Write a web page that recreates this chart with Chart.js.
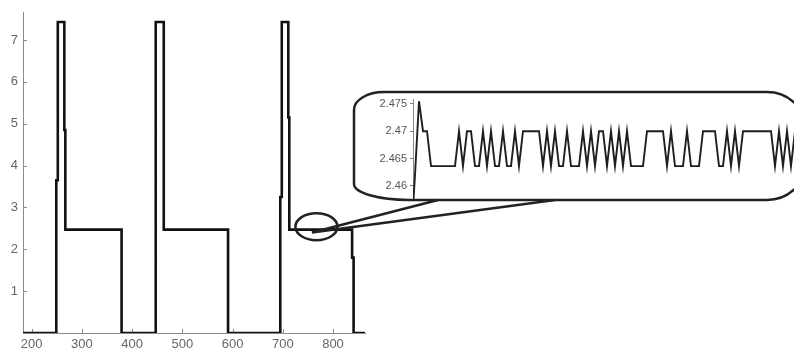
<!DOCTYPE html>
<html>
<head>
<meta charset="UTF-8">
<title>Pulse trace with zoom</title>
<script src="https://cdn.jsdelivr.net/npm/chart.js@4.4.2/dist/chart.umd.min.js"></script>
<style>
  body { margin: 0; background: #fff; }
  #wrap { position: relative; width: 794px; height: 356px; }
  #wrap canvas { position: absolute; left: 0; top: 0; }
</style>
</head>
<body>
<div id="wrap">
  <canvas id="main" width="794" height="356"></canvas>
  <canvas id="zoom" width="794" height="356"></canvas>
</div>
<script>
// main trace: time and level (vertical edges are repeated x values)
const mainX = [183, 249, 249, 252, 252, 265, 265, 267, 267, 379, 379,
               447, 447, 463, 463, 591, 591,
               695, 695, 698, 698, 711, 711, 713, 713, 838, 838, 841, 841, 864];
const mainY = [0, 0, 3.65, 3.65, 7.43, 7.43, 4.85, 4.85, 2.47, 2.47, 0,
               0, 7.43, 7.43, 2.47, 2.47, 0,
               0, 3.25, 3.25, 7.43, 7.43, 5.15, 5.15, 2.47, 2.47, 1.8, 1.8, 0, 0];
const mainXTicks = [200, 300, 400, 500, 600, 700, 800];
const mainYTicks = [1, 2, 3, 4, 5, 6, 7];

// zoomed samples of the third plateau (one value per sample)
const zoomY = [
  2.450, 2.462, 2.4755, 2.470, 2.470, 2.4636, 2.4636, 2.4636, 2.4636, 2.4636, 2.4636, 2.4636,
  2.470, 2.4636, 2.470, 2.470, 2.4636, 2.4636, 2.470, 2.4636, 2.470, 2.4636, 2.4636, 2.470,
  2.4636, 2.4636, 2.470, 2.4636, 2.470, 2.470, 2.470, 2.470, 2.470, 2.4636, 2.470, 2.4636,
  2.470, 2.4636, 2.4636, 2.470, 2.4636, 2.4636, 2.4636, 2.470, 2.4636, 2.470, 2.4636, 2.470,
  2.470, 2.4636, 2.470, 2.4636, 2.470, 2.4636, 2.470, 2.4636, 2.4636, 2.4636, 2.4636, 2.470,
  2.470, 2.470, 2.470, 2.470, 2.4636, 2.470, 2.4636, 2.4636, 2.4636, 2.470, 2.4636, 2.4636,
  2.4636, 2.470, 2.470, 2.470, 2.470, 2.4636, 2.4636, 2.470, 2.4636, 2.470, 2.4636, 2.470,
  2.470, 2.470, 2.470, 2.470, 2.470, 2.470, 2.470, 2.4636, 2.470, 2.4636, 2.470, 2.4636, 2.470
];
const zoomYTicks = [2.46, 2.465, 2.47, 2.475];

// where the magnifier ring sits on the main trace (data units)
const ringAt = { x: 767, y: 2.54 };
const apexAt = { x: 758, y: 2.40 };

const FONT = "'Liberation Sans', Arial, sans-serif";

// MATLAB style ticks pointing into the plot
const innerTicks = {
  id: 'innerTicks',
  beforeDatasetsDraw(chart) {
    const { ctx, chartArea: a, scales: { x, y } } = chart;
    ctx.save();
    ctx.strokeStyle = '#8a8a8a';
    ctx.lineWidth = 1;
    ctx.beginPath();
    x.ticks.forEach(t => {
      const px = Math.round(x.getPixelForValue(t.value)) + 0.5;
      ctx.moveTo(px, a.bottom);
      ctx.lineTo(px, a.bottom - 4);
    });
    y.ticks.forEach(t => {
      const py = Math.round(y.getPixelForValue(t.value)) + 0.5;
      ctx.moveTo(a.left, py);
      ctx.lineTo(a.left + 4, py);
    });
    ctx.stroke();
    ctx.restore();
  }
};

const mainChart = new Chart(document.getElementById('main'), {
  type: 'line',
  data: {
    datasets: [{
      data: mainX.map((x, i) => ({ x: x, y: mainY[i] })),
      borderColor: '#111',
      borderWidth: 2.6,
      pointRadius: 0,
      tension: 0,
      borderJoinStyle: 'miter'
    }]
  },
  options: {
    responsive: false,
    animation: false,
    events: [],
    layout: { padding: { top: 4, right: 429, left: 0, bottom: 0 } },
    plugins: { legend: { display: false }, tooltip: { enabled: false } },
    scales: {
      x: {
        type: 'linear',
        min: 182.7,
        max: 863.7,
        afterBuildTicks: s => { s.ticks = mainXTicks.map(v => ({ value: v })); },
        afterFit: s => { s.height = 23; },
        grid: { display: false, drawTicks: false },
        border: { color: '#8a8a8a', width: 1 },
        ticks: { color: '#666', font: { family: FONT, size: 13 }, padding: 4, maxRotation: 0, autoSkip: false }
      },
      y: {
        min: 0,
        max: 7.65,
        afterBuildTicks: s => { s.ticks = mainYTicks.map(v => ({ value: v })); },
        afterFit: s => { s.width = 23; },
        grid: { display: false, drawTicks: false },
        border: { color: '#8a8a8a', width: 1 },
        ticks: { color: '#666', font: { family: FONT, size: 13 }, padding: 5, autoSkip: false }
      }
    }
  },
  plugins: [innerTicks]
});

// bubble round the zoom plot, ring on the trace and the two lines joining them
function corner(ctx, px, py, qx, qy, horizFirst) {
  const k = 0.5523;
  if (horizFirst) ctx.bezierCurveTo(px + k * (qx - px), py, qx, qy + k * (py - qy), qx, qy);
  else ctx.bezierCurveTo(px, py + k * (qy - py), qx + k * (px - qx), qy, qx, qy);
}

const callout = {
  id: 'callout',
  afterDraw(chart) {
    const { ctx, chartArea: a } = chart;
    const mx = mainChart.scales.x, my = mainChart.scales.y;
    const cx = mx.getPixelForValue(ringAt.x), cy = my.getPixelForValue(ringAt.y);
    const ax = mx.getPixelForValue(apexAt.x), ay = my.getPixelForValue(apexAt.y);
    ctx.save();
    ctx.strokeStyle = '#222';
    ctx.lineWidth = 2.5;

    ctx.beginPath();
    ctx.ellipse(cx, cy, 21, 13.5, 0, 0, Math.PI * 2);
    ctx.stroke();

    ctx.beginPath();
    ctx.moveTo(ax, ay);
    ctx.lineTo(a.left + 25, a.bottom);
    ctx.moveTo(ax, ay);
    ctx.lineTo(a.left + 142, a.bottom);
    ctx.stroke();

    const X0 = a.left - 59, T = a.top - 7, B = a.bottom, RX = a.right + 11;
    ctx.beginPath();
    ctx.moveTo(X0 + 30, T);
    ctx.lineTo(RX - 38, T);
    corner(ctx, RX - 38, T, RX, T + 35, true);
    ctx.lineTo(RX, B - 35);
    corner(ctx, RX, B - 35, RX - 38, B, false);
    ctx.lineTo(X0 + 55, B);
    corner(ctx, X0 + 55, B, X0, B - 16, true);
    ctx.lineTo(X0, T + 18);
    corner(ctx, X0, T + 18, X0 + 30, T, false);
    ctx.closePath();
    ctx.stroke();
    ctx.restore();
  }
};

const zoomChart = new Chart(document.getElementById('zoom'), {
  type: 'line',
  data: {
    datasets: [{
      data: zoomY.map((y, i) => ({ x: i, y: y })),
      borderColor: '#1e1e1e',
      borderWidth: 1.9,
      pointRadius: 0,
      tension: 0
    }]
  },
  options: {
    responsive: false,
    animation: false,
    events: [],
    layout: { padding: { left: 373, top: 99, right: 0, bottom: 156 } },
    plugins: { legend: { display: false }, tooltip: { enabled: false } },
    scales: {
      x: { type: 'linear', display: false, min: 0.5, max: 95.75 },
      y: {
        min: 2.4574,
        max: 2.4759,
        afterBuildTicks: s => { s.ticks = zoomYTicks.map(v => ({ value: v })); },
        afterFit: s => { s.width = 40; },
        grid: { drawOnChartArea: false, drawTicks: true, tickLength: 3, color: '#777' },
        border: { color: '#8a8a8a', width: 1 },
        ticks: { color: '#555', font: { family: FONT, size: 11 }, padding: 3, autoSkip: false, callback: v => String(v) }
      }
    }
  },
  plugins: [callout]
});
</script>
</body>
</html>
